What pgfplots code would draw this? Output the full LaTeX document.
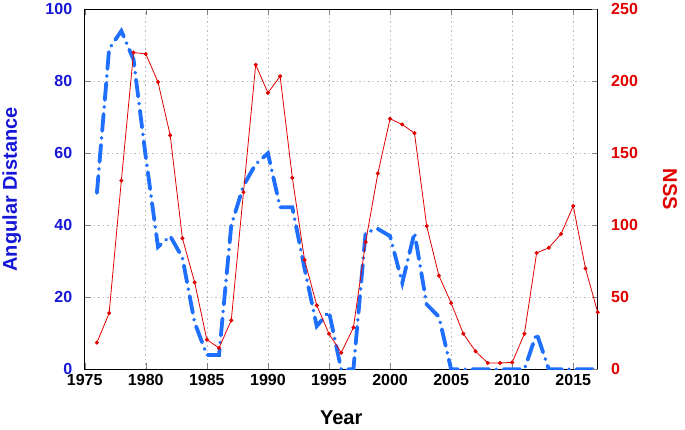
\documentclass[border=0pt]{standalone}
\usepackage{fontspec}
\setmainfont{Liberation Sans}
\usepackage{pgfplots}
\pgfplotsset{compat=1.18}
\definecolor{lblue}{RGB}{31,111,255}
\definecolor{tblue}{RGB}{22,22,215}
\definecolor{nred}{RGB}{225,0,0}
\begin{document}
\begin{tikzpicture}
\begin{axis}[
  scale only axis, width=513pt, height=360pt,
  xmin=1975, xmax=2017, ymin=0, ymax=100,
  xtick={1975,1980,...,2015}, ytick={0,20,...,100},
  xtick pos=both, ytick pos=left, tick align=inside,
  major tick length=6pt,
  grid=major, grid style={dash pattern=on 1.5pt off 3pt, gray!55, line width=0.6pt},
  /pgf/number format/1000 sep={}, /pgf/number format/assume math mode=true,
  xticklabel style={font=\fontsize{16}{18}\selectfont\bfseries, black},
  xticklabel shift=1pt,
  yticklabel style={font=\fontsize{16}{18}\selectfont\bfseries, tblue},
  yticklabel shift=9pt,
  xlabel={Year}, ylabel={Angular Distance},
  xlabel style={font=\fontsize{20}{22}\selectfont\bfseries, at={(axis description cs:0.5,-0.135)}, anchor=center},
  ylabel style={font=\fontsize{20}{22}\selectfont\bfseries, tblue, at={(axis description cs:-0.142,0.5)}, anchor=center},
  axis line style={black, line width=0.8pt},
]
\coordinate (sw) at (rel axis cs:0,0);
\addplot[lblue, line width=3.8pt, line cap=round, dash pattern=on 17pt off 7pt on 0.1pt off 7pt] coordinates {
(1976,49) (1977,89) (1978,94) (1979,86) (1980,59) (1981,34) (1982,37) (1983,31) (1984,13) (1985,4) (1986,4) (1987,40) (1988,51) (1989,57) (1990,60) (1991,45) (1992,45) (1993,28) (1994,12) (1995,16) (1996,0) (1997,0) (1998,38) (1999,39) (2000,37) (2001,24) (2002,38) (2003,18) (2004,14.6) (2005,0) (2006,0) (2007,0) (2008,0) (2009,0) (2010,0) (2011,0) (2012,10) (2013,0) (2014,0) (2015,0) (2016,0) (2017,0)
};
\end{axis}
\begin{axis}[
  scale only axis, width=513pt, height=360pt,
  xmin=1975, xmax=2017, ymin=0, ymax=250,
  ytick={0,50,...,250},
  axis x line=none, axis y line*=right, tick align=inside,
  major tick length=6pt,
  /pgf/number format/assume math mode=true,
  yticklabel style={font=\fontsize{16}{18}\selectfont\bfseries, nred},
  yticklabel shift=10pt,
  ylabel={NSS},
  ylabel style={font=\fontsize{20}{22}\selectfont\bfseries, nred, rotate=180, at={(axis description cs:1.141,0.5)}, anchor=center},
  axis line style={black, line width=0.8pt},
]
\addplot[nred, line width=0.8pt, mark=*, mark size=1.6pt] coordinates {
(1976,18.5) (1977,39) (1978,131) (1979,220) (1980,219) (1981,199.5) (1982,162.5) (1983,91) (1984,60.4) (1985,20.6) (1986,14.8) (1987,34) (1988,123) (1989,211.5) (1990,192) (1991,203.5) (1992,133) (1993,76) (1994,44.4) (1995,24.7) (1996,11.5) (1997,29) (1998,88.4) (1999,136) (2000,174) (2001,170) (2002,164) (2003,99.5) (2004,65) (2005,46) (2006,24.7) (2007,12.5) (2008,4.4) (2009,4.4) (2010,4.8) (2011,24.7) (2012,80.8) (2013,84.4) (2014,94) (2015,113.4) (2016,70) (2017,39.6)
};
\end{axis}
\pgfresetboundingbox
\path[use as bounding box] (sw) ++(-84.7pt,-59.7pt) rectangle ++(685pt,429pt);
\end{tikzpicture}
\end{document}
